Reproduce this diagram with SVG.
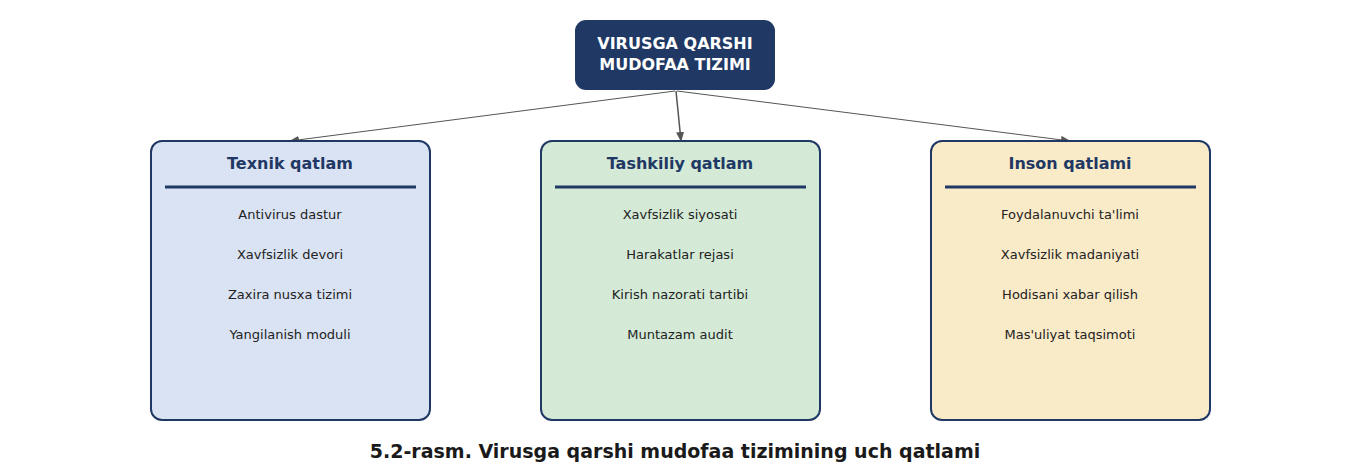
<svg xmlns="http://www.w3.org/2000/svg" width="1350" height="475" viewBox="0 0 1350 475">
<defs>
<marker id="arr" markerWidth="10" markerHeight="8" refX="9" refY="4" orient="auto" markerUnits="userSpaceOnUse">
<path d="M0,0 L10,4 L0,8 Z" fill="#555555"/>
</marker>
<style>
.box{stroke:#1f3864;stroke-width:2}
.hd{font-family:"DejaVu Sans",sans-serif;font-weight:bold;font-size:16px;fill:#1f3864;text-anchor:middle}
.it{font-family:"DejaVu Sans",sans-serif;font-size:13px;fill:#222222;text-anchor:middle}
.div{stroke:#1f3864;stroke-width:3}
.con{stroke:#555555;fill:none}
</style>
</defs>
<rect width="1350" height="475" fill="#ffffff"/>
<g id="connectors">
<line class="con" x1="675" y1="91" x2="290" y2="141" stroke-width="1" marker-end="url(#arr)"/>
<line class="con" x1="676" y1="91" x2="681" y2="141" stroke-width="1.5" marker-end="url(#arr)"/>
<line class="con" x1="677" y1="91" x2="1070" y2="141" stroke-width="1" marker-end="url(#arr)"/>
</g>
<g id="root">
<rect x="575" y="20" width="200" height="70" rx="11" fill="#1f3864"/>
<text x="675" y="49" font-family="DejaVu Sans,sans-serif" font-weight="bold" font-size="16" fill="#ffffff" text-anchor="middle">VIRUSGA QARSHI</text>
<text x="675" y="70" font-family="DejaVu Sans,sans-serif" font-weight="bold" font-size="16" fill="#ffffff" text-anchor="middle">MUDOFAA TIZIMI</text>
</g>
<g id="texnik">
<rect class="box" x="151" y="141" width="279" height="279" rx="11" fill="#dae3f4"/>
<text class="hd" x="290" y="169">Texnik qatlam</text>
<line class="div" x1="165" y1="187" x2="416" y2="187"/>
<text class="it" x="290" y="219">Antivirus dastur</text>
<text class="it" x="290" y="259">Xavfsizlik devori</text>
<text class="it" x="290" y="299">Zaxira nusxa tizimi</text>
<text class="it" x="290" y="339">Yangilanish moduli</text>
</g>
<g id="tashkiliy">
<rect class="box" x="541" y="141" width="279" height="279" rx="11" fill="#d4ead6"/>
<text class="hd" x="680" y="169">Tashkiliy qatlam</text>
<line class="div" x1="555" y1="187" x2="806" y2="187"/>
<text class="it" x="680" y="219">Xavfsizlik siyosati</text>
<text class="it" x="680" y="259">Harakatlar rejasi</text>
<text class="it" x="680" y="299">Kirish nazorati tartibi</text>
<text class="it" x="680" y="339">Muntazam audit</text>
</g>
<g id="inson">
<rect class="box" x="931" y="141" width="279" height="279" rx="11" fill="#f9eac8"/>
<text class="hd" x="1070" y="169">Inson qatlami</text>
<line class="div" x1="945" y1="187" x2="1196" y2="187"/>
<text class="it" x="1070" y="219">Foydalanuvchi ta'limi</text>
<text class="it" x="1070" y="259">Xavfsizlik madaniyati</text>
<text class="it" x="1070" y="299">Hodisani xabar qilish</text>
<text class="it" x="1070" y="339">Mas'uliyat taqsimoti</text>
</g>
<text x="675" y="458" font-family="DejaVu Sans,sans-serif" font-weight="bold" font-size="19" fill="#1a1a1a" text-anchor="middle">5.2-rasm. Virusga qarshi mudofaa tizimining uch qatlami</text>
</svg>
